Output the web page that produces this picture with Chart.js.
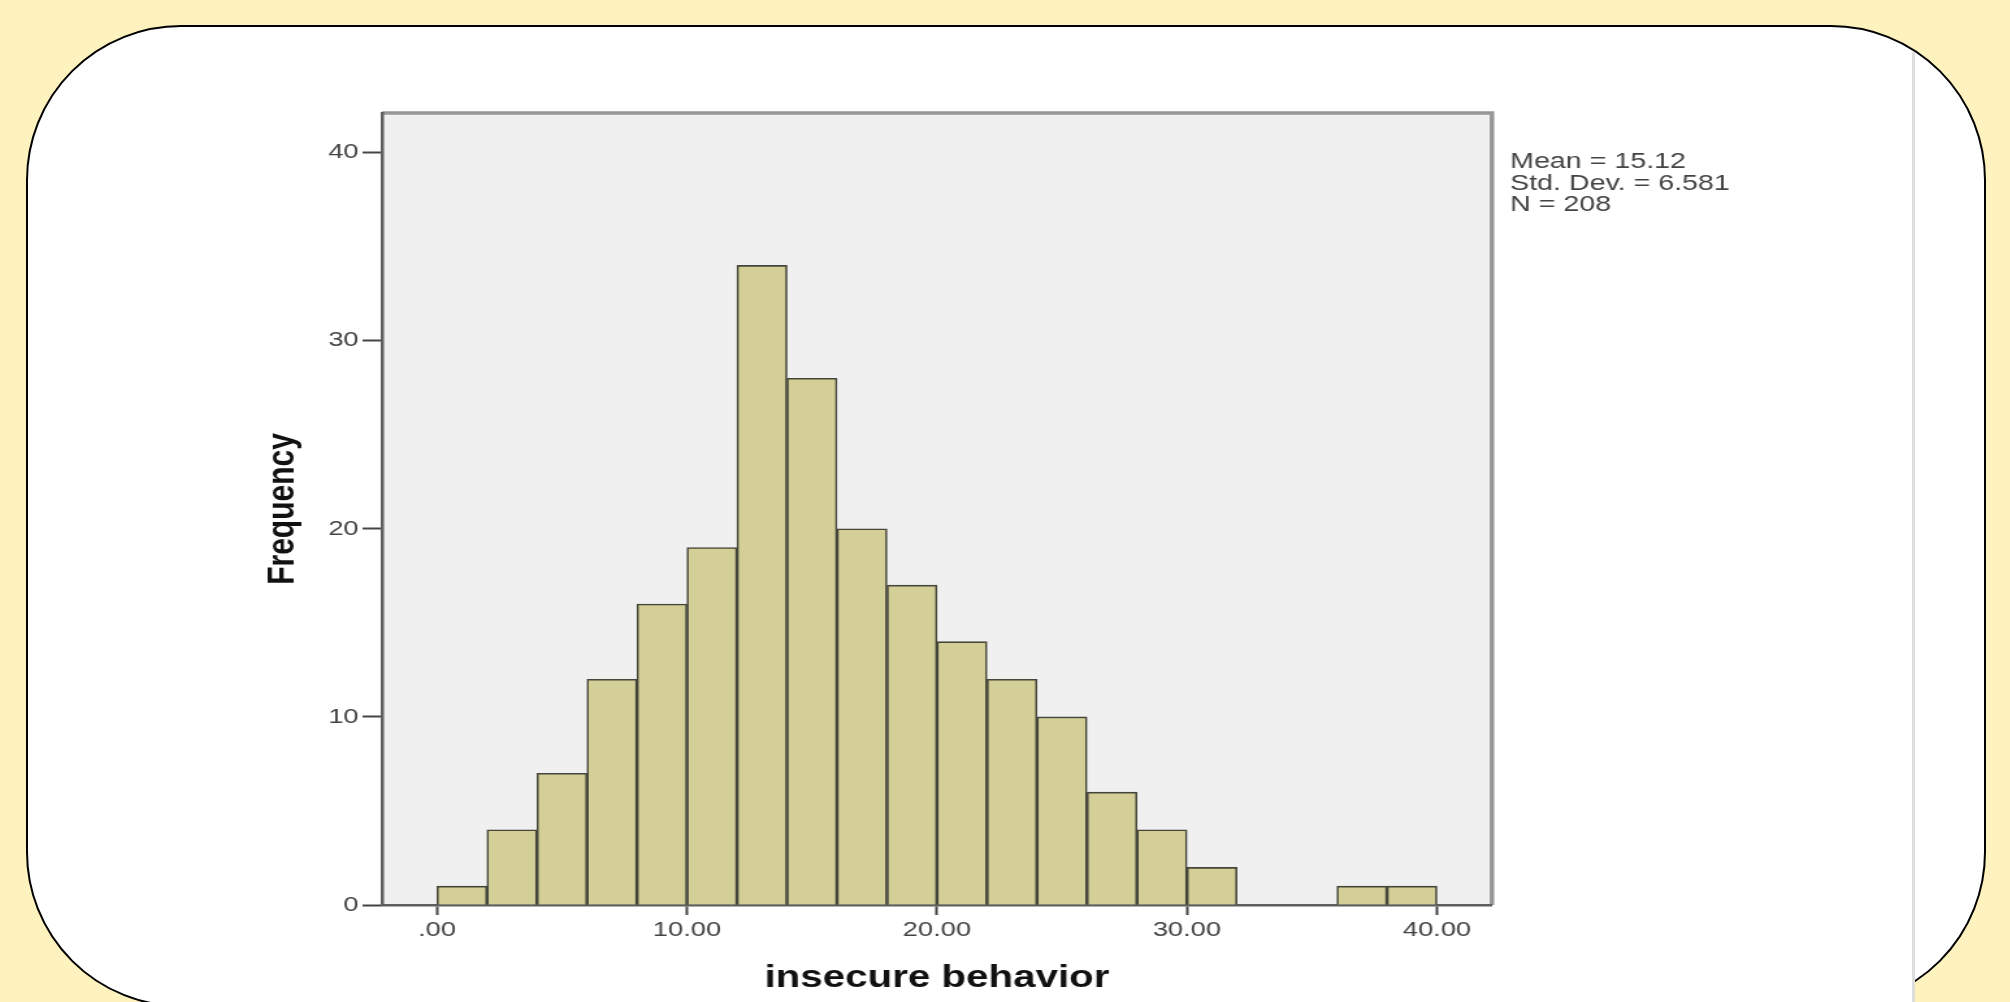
<!DOCTYPE html>
<html>
<head>
<meta charset="utf-8">
<title>insecure behavior</title>
<script src="https://cdn.jsdelivr.net/npm/chart.js@4.4.1/dist/chart.umd.min.js"></script>
<style>
  html, body { margin: 0; padding: 0; }
  body { width: 2010px; height: 1002px; background: #fef2bf; position: relative; overflow: hidden; }
  #card { position: absolute; left: 26px; top: 25px; width: 1960px; height: 982px; box-sizing: border-box;
          border: 2px solid #000; border-radius: 155px; background: #fff; }
  #shot { position: absolute; left: 180px; top: 52px; width: 1732px; height: 960px; background: #fff;
          border-right: 3px solid #dedede; }
  #myChart { position: absolute; left: 200px; top: 0; transform: scaleX(1.3); transform-origin: 0 0; }
</style>
</head>
<body>
<div id="card"></div>
<div id="shot"></div>
<canvas id="myChart" width="1308" height="1002"></canvas>
<script>
// histogram bins (start of each bin) and frequencies
const binStart = [0, 2, 4, 6, 8, 10, 12, 14, 16, 18, 20, 22, 24, 26, 28, 30, 32, 34, 36, 38];
const counts   = [1, 4, 7, 12, 16, 19, 34, 28, 20, 17, 14, 12, 10, 6, 4, 2, 0, 0, 1, 1];
const binWidth = 2;
const xTicks = [0, 10, 20, 30, 40];
const yTicks = [0, 10, 20, 30, 40];
const xTitle = 'insecure behavior';
const yTitle = 'Frequency';
const statsLines = ['Mean = 15.12', 'Std. Dev. = 6.581', 'N = 208'];

Chart.defaults.font.family = "'Liberation Sans', Arial, sans-serif";

var bars = [];
for (let i = 0; i < binStart.length; i++) {
    bars.push({x: binStart[i] + binWidth / 2, y: counts[i]});
}

const plotFrame = {
    id: 'plotFrame',
    beforeDraw(chart) {
        const ctx = chart.ctx;
        const a = chart.chartArea;
        ctx.save();
        ctx.fillStyle = '#f0f0f0';
        ctx.fillRect(a.left, a.top, a.right - a.left, a.bottom - a.top);
        ctx.strokeStyle = '#969696';
        ctx.lineWidth = 3.5;
        ctx.beginPath();
        ctx.moveTo(a.left, a.top);
        ctx.lineTo(a.right, a.top);
        ctx.lineTo(a.right, a.bottom);
        ctx.stroke();
        ctx.restore();
    },
    afterDraw(chart) {
        const ctx = chart.ctx;
        const a = chart.chartArea;
        ctx.save();
        ctx.font = "22px 'Liberation Sans', Arial, sans-serif";
        ctx.fillStyle = '#444';
        ctx.textAlign = 'left';
        ctx.textBaseline = 'middle';
        statsLines.forEach((t, i) => {
            ctx.fillText(t, a.right + 14, 162 + i * 21.5);
        });
        ctx.restore();
    }
};

const ctx = document.getElementById('myChart').getContext('2d');
const myChart = new Chart(ctx, {
    type: 'bar',
    data: {
        datasets: [{
            label: 'Frequency',
            data: bars,
            backgroundColor: '#d3cf96',
            borderColor: '#45453a',
            borderWidth: 1.6,
            barPercentage: 1,
            categoryPercentage: 1
        }]
    },
    options: {
        responsive: false,
        animation: false,
        layout: {padding: {left: 0, right: 314.2, top: 113, bottom: 0}},
        plugins: {legend: {display: false}, tooltip: {enabled: false}},
        scales: {
            x: {
                type: 'linear',
                offset: false,
                min: -2.2,
                max: 42.2,
                afterFit: (s) => { s.height = 97; },
                afterBuildTicks: (s) => { s.ticks = xTicks.map(v => ({value: v})); },
                grid: {offset: false, drawOnChartArea: false, tickLength: 10, tickColor: '#444', tickWidth: 2},
                border: {color: '#5e5e5e', width: 2.5},
                ticks: {
                    padding: 3,
                    color: '#444',
                    font: {size: 21},
                    maxRotation: 0,
                    callback: (v) => v === 0 ? '.00' : v.toFixed(2)
                },
                title: {display: true, text: xTitle, color: '#111',
                        font: {size: 31, weight: 'bold'}, padding: {top: 0, bottom: 5}}
            },
            y: {
                min: 0,
                max: 42.1,
                afterFit: (s) => { s.width = 140; },
                afterBuildTicks: (s) => { s.ticks = yTicks.map(v => ({value: v})); },
                grid: {drawOnChartArea: false, tickLength: 15, tickColor: '#444', tickWidth: 2},
                border: {color: '#5e5e5e', width: 2.5},
                ticks: {padding: 3, color: '#444', font: {size: 21}},
                title: {display: true, text: yTitle, color: '#111',
                        font: {size: 30, weight: 'bold'}, padding: {top: 46, bottom: 0}}
            }
        }
    },
    plugins: [plotFrame]
});
</script>
</body>
</html>
